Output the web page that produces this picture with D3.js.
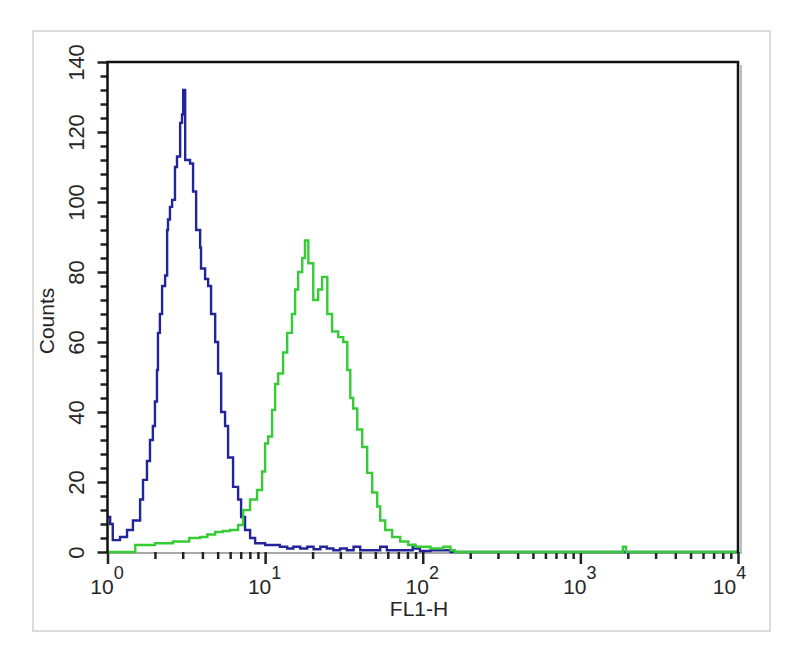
<!DOCTYPE html>
<html>
<head>
<meta charset="utf-8">
<script src="https://cdn.jsdelivr.net/npm/d3@7/dist/d3.min.js"></script>
<style>
  html, body { margin: 0; padding: 0; background: #ffffff; }
  svg { display: block; font-family: "Liberation Sans", Arial, sans-serif; }
</style>
</head>
<body>
<svg id="chart" width="800" height="656"></svg>
<script>
// ---- data (FL1-H value, counts) ----
const blueHistogram = [
  [1.0, 10], [1.04, 8], [1.08, 3.4], [1.20, 4.3], [1.33, 6.3], [1.45, 9], [1.61, 15], [1.68, 20.6],
  [1.78, 26], [1.86, 32], [1.94, 36], [2.00, 43], [2.06, 52], [2.09, 62.6], [2.15, 68], [2.22, 76],
  [2.32, 79], [2.39, 92], [2.42, 95], [2.49, 98.6], [2.57, 100.6], [2.68, 110], [2.76, 113],
  [2.89, 122.6], [2.97, 125], [3.02, 132], [3.11, 112], [3.34, 111], [3.49, 103], [3.65, 92],
  [3.87, 87], [3.92, 81], [4.16, 78], [4.35, 76], [4.54, 68], [4.82, 60], [5.03, 51], [5.26, 40],
  [5.57, 36], [5.82, 27], [6.26, 18.6], [6.74, 15], [7.04, 10], [7.46, 6.3], [8.03, 4], [8.64, 2.5],
  [9.30, 2.5], [10.0, 2], [11.0, 2], [12.4, 1.5], [13.8, 1], [15.1, 1.5], [16.7, 1], [18.5, 1.5],
  [20.3, 0.8], [22.4, 1.5], [24.6, 1], [27.1, 0.5], [29.9, 1], [33.0, 0.5], [36.4, 1.5], [40.1, 0.5],
  [44.2, 0.5], [48.7, 0.5], [53.7, 1.5], [59.2, 0.5], [65.3, 0.5], [72.0, 0.5], [79.4, 0.5],
  [86.4, 2], [89.6, 1], [96.0, 0.3], [112, 0.5], [150, 0], [10000, 0]
];
const greenHistogram = [
  [1.0, 0], [1.50, 2], [1.78, 2], [2.0, 2.5], [2.32, 2.5], [2.6, 3], [2.89, 3], [3.3, 4], [3.87, 4.3],
  [4.3, 5], [4.82, 5.7], [5.4, 6], [5.99, 6.3], [6.74, 7.7], [7.25, 12], [8.03, 15], [8.89, 17.7],
  [9.57, 23], [10.0, 31], [10.45, 33], [11.07, 40.6], [11.57, 48], [12.1, 51], [13.0, 57],
  [13.8, 62.6], [14.8, 68], [15.5, 75], [16.2, 80], [17.2, 84], [17.9, 89], [18.8, 82.5],
  [20.2, 72], [21.7, 75], [23.0, 78.6], [24.8, 68], [26.6, 63], [29.1, 61.4], [31.3, 60],
  [33.2, 52], [34.7, 44], [36.2, 41], [38.4, 35], [41.3, 30], [44.4, 22.6], [47.8, 17], [51.4, 13],
  [53.7, 9], [57.8, 6.3], [64.0, 4.3], [72.0, 3], [80.9, 2], [89.6, 1.5], [112, 1], [135, 1.5],
  [150, 0.5], [160, 0], [1795, 0], [1860, 1.5], [1950, 0], [10000, 0]
];
const yTickValues = [0, 20, 40, 60, 80, 100, 120, 140];
const yMinorStep = 4;
const xDecades = [1, 10, 100, 1000, 10000];
const xExponents = ["0", "1", "2", "3", "4"];
const xLabel = "FL1-H";
const yLabel = "Counts";

// ---- layout ----
const svg = d3.select("#chart");
const plot = { left: 107.5, right: 738, top: 62, bottom: 552 };
const textColor = "#262626";

const x = d3.scaleLog().domain([1, 10000]).range([plot.left, plot.right]);
const y = d3.scaleLinear().domain([0, 140]).range([plot.bottom, plot.top]);

// outer light frame
svg.append("rect")
  .attr("x", 33).attr("y", 31).attr("width", 737).attr("height", 600)
  .attr("fill", "none").attr("stroke", "#dcdcdc").attr("stroke-width", 2);

// frame shadow
svg.append("path")
  .attr("d", `M${plot.right + 3},${plot.top + 3}V${plot.bottom + 2}`)
  .attr("stroke", "#bdbdbd").attr("stroke-width", 2).attr("fill", "none");

// bottom axis line (grey)
svg.append("line")
  .attr("x1", plot.left).attr("x2", plot.right)
  .attr("y1", plot.bottom + 1).attr("y2", plot.bottom + 1)
  .attr("stroke", "#a8a8a8").attr("stroke-width", 2);

// Y axis minor ticks
const yMinor = d3.range(0, 141, yMinorStep).filter(v => v % 20 !== 0);
const yMinorAxis = svg.append("g")
  .attr("transform", `translate(${plot.left},0)`)
  .call(d3.axisLeft(y).tickValues(yMinor).tickSize(7).tickFormat(""));
yMinorAxis.select(".domain").remove();
yMinorAxis.selectAll("line").attr("stroke", "#222").attr("stroke-width", 2.5);

// Y axis major ticks + labels
const yAxis = svg.append("g")
  .attr("transform", `translate(${plot.left},0)`)
  .call(d3.axisLeft(y).tickValues(yTickValues).tickSize(10).tickPadding(0));
yAxis.select(".domain").remove();
yAxis.selectAll("line").attr("stroke", "#222").attr("stroke-width", 2.5);
yAxis.selectAll("text")
  .attr("x", null).attr("dy", null)
  .attr("transform", "translate(-24,0) rotate(-90)")
  .attr("text-anchor", "middle")
  .attr("font-size", 22)
  .attr("fill", textColor)
  .attr("font-family", "Liberation Sans, Arial, sans-serif");

// X axis minor ticks
const xMinor = [];
xDecades.slice(0, -1).forEach(d => { for (let k = 2; k <= 9; k++) xMinor.push(d * k); });
const xMinorAxis = svg.append("g")
  .attr("transform", `translate(0,${plot.bottom})`)
  .call(d3.axisBottom(x).tickValues(xMinor).tickSize(7).tickFormat(""));
xMinorAxis.select(".domain").remove();
xMinorAxis.selectAll("line").attr("stroke", "#222").attr("stroke-width", 2.5);

// X axis major ticks
const xAxis = svg.append("g")
  .attr("transform", `translate(0,${plot.bottom})`)
  .call(d3.axisBottom(x).tickValues(xDecades).tickSize(12).tickFormat(""));
xAxis.select(".domain").remove();
xAxis.selectAll("line").attr("stroke", "#222").attr("stroke-width", 2.5);
xAxis.selectAll(".tick").each(function (d, i) {
  const t = d3.select(this).append("text")
    .attr("x", i === xDecades.length - 1 ? -9 : -1)
    .attr("y", 42)
    .attr("text-anchor", "middle")
    .attr("fill", textColor)
    .attr("font-size", 21);
  t.append("tspan").text("10");
  t.append("tspan").attr("dy", -15).attr("font-size", 18).text(xExponents[i]);
});

// histograms
const line = d3.line()
  .x(d => x(d[0]))
  .y(d => y(d[1]))
  .curve(d3.curveStepAfter);

svg.append("clipPath").attr("id", "clip")
  .append("rect").attr("x", plot.left).attr("y", plot.top - 2)
  .attr("width", plot.right - plot.left).attr("height", plot.bottom - plot.top + 4);

svg.append("path")
  .datum(blueHistogram)
  .attr("d", line)
  .attr("fill", "none")
  .attr("stroke", "#23239a")
  .attr("stroke-width", 2.4)
  .attr("clip-path", "url(#clip)");

svg.append("path")
  .datum(greenHistogram)
  .attr("d", line)
  .attr("fill", "none")
  .attr("stroke", "#36cc36")
  .attr("stroke-width", 2.4)
  .attr("clip-path", "url(#clip)");

// black frame: left, top, right
svg.append("path")
  .attr("d", `M${plot.left},${plot.bottom + 1}V${plot.top}H${plot.right}V${plot.bottom + 1}`)
  .attr("fill", "none").attr("stroke", "#111").attr("stroke-width", 2.5);

// axis titles
svg.append("text")
  .attr("x", 419).attr("y", 616)
  .attr("text-anchor", "middle")
  .attr("font-size", 21)
  .attr("fill", textColor)
  .text(xLabel);

svg.append("text")
  .attr("transform", "translate(54,321) rotate(-90)")
  .attr("text-anchor", "middle")
  .attr("font-size", 21)
  .attr("fill", textColor)
  .text(yLabel);
</script>
</body>
</html>
